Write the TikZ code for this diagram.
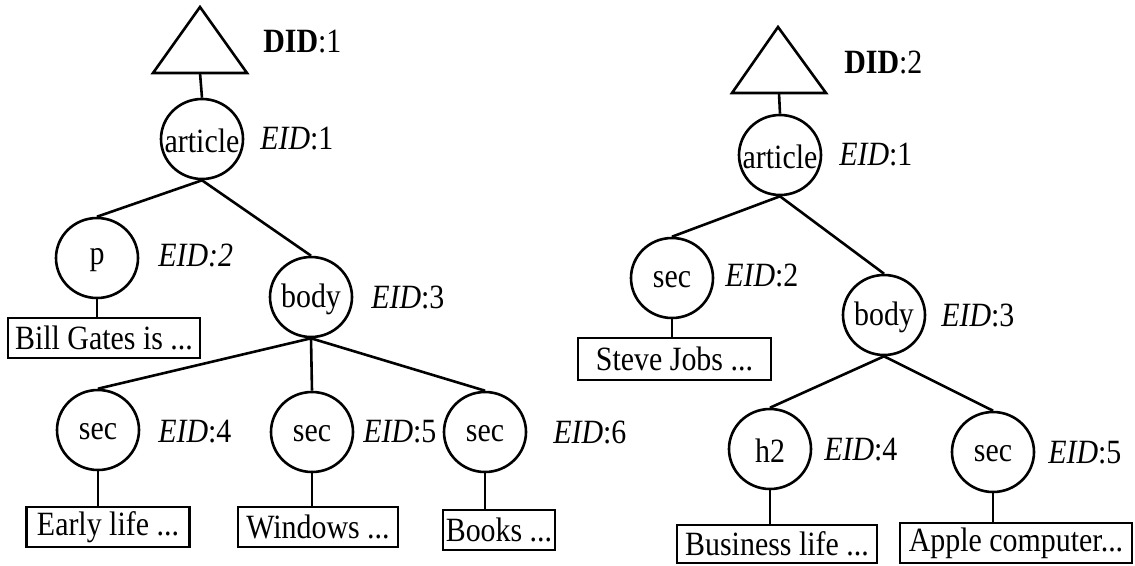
\documentclass[tikz,border=0pt]{standalone}
\usepackage{fontspec}
\setmainfont{Liberation Serif}[FakeStretch=0.88]
\usetikzlibrary{shapes.geometric}
\begin{document}
\begin{tikzpicture}[x=1pt,y=-1pt,
  every node/.style={font=\fontsize{34}{40}\selectfont},
  every label/.style={yshift=-2pt},
  line width=2.6pt,
  elem/.style={draw, ellipse, minimum width=82pt, minimum height=80pt, inner sep=0pt},
  leaf/.style={draw, rectangle, inner sep=0pt, minimum height=40pt},
  tag/.style={anchor=west, inner sep=0pt}
]
\useasboundingbox (0,0) rectangle (1135,565);

% ---------- document 1 ----------
\coordinate (d1apex) at (200,7);
\coordinate (d1l) at (153,73);
\coordinate (d1r) at (247,73);
\coordinate (d1b) at (200,73);
\draw[line join=miter] (d1apex) -- (d1l) -- (d1r) -- cycle;
\node[tag] (did1) at (262,42) {\textbf{DID}:1};

\node[elem, label={center:article}] (a1) at (202,139) {};
\node[tag] (a1t) at (259,139) {\textit{EID}:1};
\node[elem, label={center:p}] (p1) at (97,258) {};
\node[tag] (p1t) at (157,255) {\textit{EID:2}};
\node[leaf, minimum width=192pt] (bill) at (104,338) {Bill Gates is ...};

\node[elem, label={center:body}] (b1) at (311,297) {};
\node[tag] (b1t) at (370,297) {\textit{EID}:3};

\node[elem, label={center:sec}] (s4) at (98,430) {};
\node[tag] (s4t) at (157,432) {\textit{EID}:4};
\node[elem, label={center:sec}] (s5) at (312,432) {};
\node[tag] (s5t) at (362,432) {\textit{EID}:5};
\node[elem, label={center:sec}] (s6) at (485,432) {};
\node[tag] (s6t) at (552,432) {\textit{EID}:6};

\node[leaf, minimum width=163pt] (early) at (108,527) {Early life ...};
\node[leaf, minimum width=160pt] (win) at (318,527) {Windows ...};
\node[leaf, minimum width=112pt] (books) at (499,530) {Books ...};

\draw (d1b) -- (a1.north);
\draw (a1.south) -- (p1.north);
\draw (a1.south) -- (b1.north);
\draw (p1.south) -- (p1.south |- bill.north);
\draw (b1.south) -- (s4.north);
\draw (b1.south) -- (s5.north);
\draw (b1.south) -- (s6.north);
\draw (s4.south) -- (s4.south |- early.north);
\draw (s5.south) -- (s5.south |- win.north);
\draw (s6.south) -- (s6.south |- books.north);

% ---------- document 2 ----------
\coordinate (d2apex) at (778,27);
\coordinate (d2l) at (732,93);
\coordinate (d2r) at (826,93);
\coordinate (d2b) at (779,93);
\draw[line join=miter] (d2apex) -- (d2l) -- (d2r) -- cycle;
\node[tag] (did2) at (843,62) {\textbf{DID}:2};

\node[elem, label={center:article}] (a2) at (780,155) {};
\node[tag] (a2t) at (838,155) {\textit{EID}:1};
\node[elem, label={center:sec}] (c2) at (672,278) {};
\node[tag] (c2t) at (724,275) {\textit{EID}:2};
\node[leaf, minimum width=193pt, minimum height=42pt] (steve) at (674.5,359) {Steve Jobs ...};

\node[elem, label={center:body}] (b2) at (884,315) {};
\node[tag] (b2t) at (940,315) {\textit{EID}:3};

\node[elem, label={center:h2}] (h2) at (770,449) {};
\node[tag] (h2t) at (823,450) {\textit{EID}:4};
\node[elem, label={center:sec}] (c5) at (993,452) {};
\node[tag] (c5t) at (1047,453) {\textit{EID}:5};

\node[leaf, minimum width=200pt, minimum height=38pt] (biz) at (777,544) {Business life ...};
\node[leaf, minimum width=232pt] (apple) at (1016,543) {Apple computer...};

\draw (d2b) -- (a2.north);
\draw (a2.south) -- (c2.north);
\draw (a2.south) -- (b2.north);
\draw (c2.south) -- (c2.south |- steve.north);
\draw (b2.south) -- (h2.north);
\draw (b2.south) -- (c5.north);
\draw (h2.south) -- (h2.south |- biz.north);
\draw (c5.south) -- (c5.south |- apple.north);
\end{tikzpicture}
\end{document}
